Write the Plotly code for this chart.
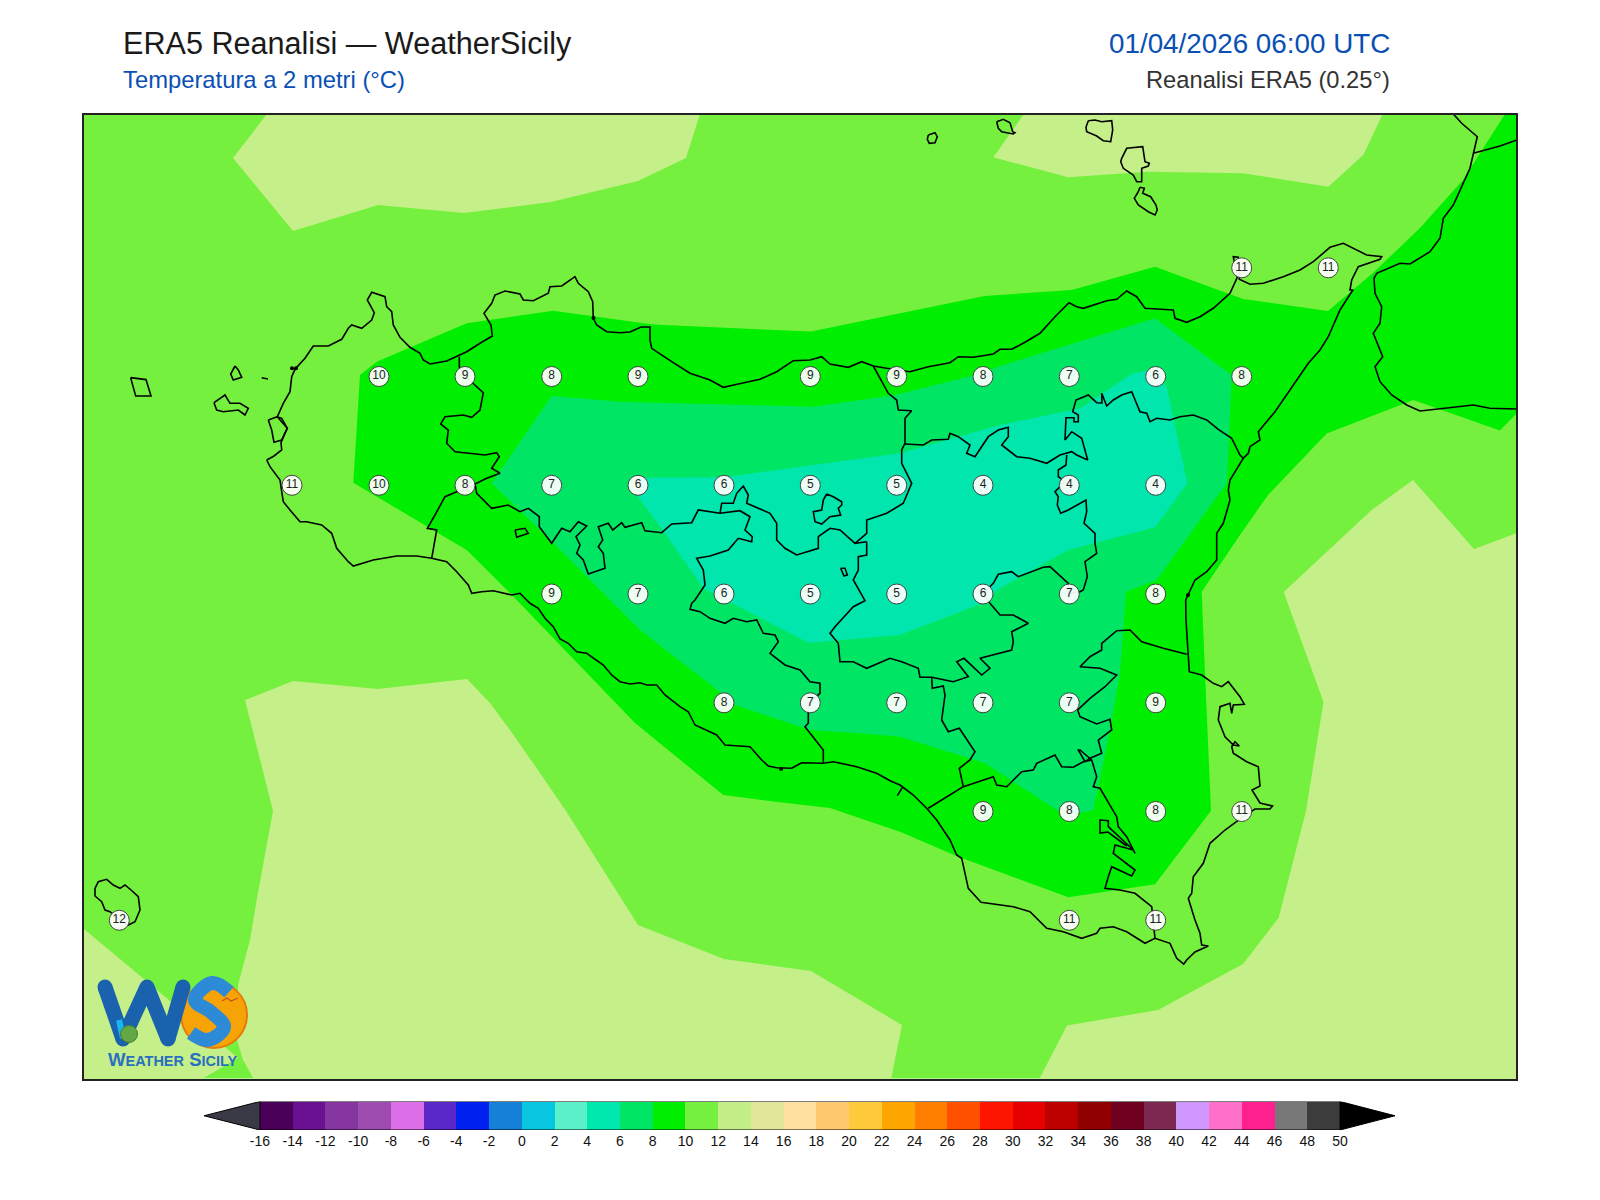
import plotly.graph_objects as go

# ---------- map units: eastings / southings of the figure's map plane ----------
MAP_X = (83.6, 1516.2)
MAP_Y = (1078.7, 114.9)

# ---------- temperature band polygons ----------
band_10_12 = [
    [(MAP_X[0],MAP_Y[0]),(MAP_X[1],MAP_Y[0]),(MAP_X[1],MAP_Y[1]),(MAP_X[0],MAP_Y[1])],
]
band_12_14 = [
    [(267,114),(700,114),(686,158),(638,181),(551,202),(464,213),(378,205),(293,231),(233,158)],
    [(1024,114),(993.3,157.3),(1068.3,177.3),(1146.7,171.7),(1243,173.3),(1328.3,186.7),(1363.3,155),(1382.7,114)],
    [(245,700),(293,681),(378,689),(467,679),(490,703),(510,730),(540,773),(566,811),(638,925),(724,959),(811,971),(902,1025),(891,1079.6),(254,1079.6),(243,1060),(237,1040),(238,985),(250,940),(257,898),(273,811)],
    [(82.7,928),(120,959),(238,1058),(201,1079.6),(82.7,1079.6)],
    [(1039,1079.6),(1067,1025.5),(1158,1010),(1243,964),(1278.6,918),(1306,811),(1323.5,702),(1283.7,592),(1371.7,510),(1413,480),(1474,549),(1517,533),(1517,1079.6)],
]
band_8_10 = [
    [(360,375),(376.7,361.7),(466.7,323.3),(553.3,310.7),(653,324.5),(811,331.6),(984.7,296),(1071.7,290),(1155,266.7),(1243,299),(1328,311),(1373,273),(1420,228),(1463,180),(1505,114),(1517,114),
     (1517,413),(1500,430.6),(1413.3,400),(1326.7,433.5),(1268,495),(1240,535),(1201.7,591.7),(1205,673),(1211,810.7),(1155,884.3),(1068.3,897.3),(958.3,856.7),(900,831.7),(880,825),(830,808),(780,802.3),(723.3,795),(635,723),(510,593),(466.7,550),(353.3,482.7)],
]
band_6_8 = [
    [(551.7,396),(620,401.7),(813.3,406.7),(895,395),(983,373),(1000,366),(1155,318.3),(1231.7,375),(1228.3,453.3),(1226.7,483.3),(1156.7,580),(1126,591.7),(1124,620),(1120,673.3),(1110,730),(1093.3,810),(1080,813),(1056.7,810),(985,763.3),(900,736.7),(860,733.3),(810,730),(735,705),(713.3,686.7),(640,630),(603.3,593.3),(553.3,543),(491.7,483.3)],
]
band_4_6 = [
    [(638,496.7),(645,477.7),(723.3,477.3),(900,453.3),(1000,425),(1080,408.3),(1133,373.3),(1150,370),(1166.7,386.7),(1187.3,483.3),(1155,527.3),(1068.3,550),(1000,588.3),(983,603),(900,635),(808.3,642.7),(703.3,588.3),(665,533.3)],
]

# ---------- coastlines ----------
coast_sicily = [
    (266.7,460),(274,456),(281.7,450),(281,442.7),(285,433),(287.3,428.3),(281.7,418.3),(277.3,416.7),(283.3,403.3),(290,391.7),(291.7,376.7),(295,369.3),(305,358.3),(313.3,346),(328.3,346),(341.7,339.3),(348.3,328.3),(351.7,325),(361.7,328.3),(371.7,320),(374.3,312.7),(367.3,300),(371.7,292.3),(385,296.7),(386.7,306.7),(391.7,311.7),(393.3,325),(400,337.3),(410,347.3),(420,353.3),(423.3,360),(430,364),(446.7,361),(466.7,351.7),(480,343.3),(492.3,336),(491,325),(484,313.3),(491.7,303.3),(495,295),(505,291),(520,294),(523.3,300),(533.3,300.7),(548.3,293.3),(550,286.7),(561.7,286),(575,276.7),(578.3,283.3),(588.3,291.7),(592.7,301.7),(593.3,318.3),(596.7,325),(606.7,331.7),(620,332.7),(630,332),(641,327),(650,327),
    (650,340),(651.7,348.3),(671.7,361.7),(690,373.3),(710,380),(723.3,387.3),(738.3,384),(760,379.3),(776.7,371.7),(793.3,360.7),(810,360),(821.7,356.7),(830,364),(848.3,367.3),(861.7,361.7),(873.3,366),(886.7,368.3),(910,371.7),(928.3,366.7),(950,362.7),(958.3,356.7),(973.3,357.3),(993.3,354),
    (1000,349.3),(1011.7,349.3),(1025,342.3),(1040,333.3),(1055,316.7),(1069,302.7),(1076.7,306.7),(1083.3,308.3),(1106.7,300.7),(1116.7,299.3),(1126.7,291),(1136.7,296.7),(1145,308.3),(1173.3,310),(1175,318.3),(1186.7,322.3),(1200,316.7),(1213.3,308.3),(1230,293.3),(1237.3,277.3),(1233.3,256.7),(1238.3,257.3),(1239.3,279.3),(1250,284.3),(1263.3,283.3),(1283.3,276.7),(1300,270),(1313.3,261.7),(1330,247.3),(1343.3,243.3),(1353.3,248.3),(1366.7,255),(1381.7,256.7),(1380,259.3),(1358.3,266.7),(1351.7,280),(1350,290),(1353.3,290),(1351.7,291.7),(1340,310),(1328.3,336.7),(1320,350),(1308.3,363.3),(1275,411.7),(1258.3,431.7),(1260,440),(1250,446.7),(1248.3,453.3),(1243.3,458.3),(1230,480),(1228.3,490),(1230,500),(1223.3,523.3),(1216.7,533.3),(1216.7,560),(1206.7,571.7),(1195,580),(1190,590),(1185.7,600),
    (1186,620),(1187.3,643.3),(1189.3,671.7),(1201.7,675),(1213.3,683.3),(1221.7,686.7),(1228.3,681.7),(1240,696.7),(1244.3,704.3),(1233.3,705),(1231.7,713.3),(1230,703.3),(1220,706.7),(1218.3,720),(1225,736.7),(1233.3,745),(1239.3,746),(1235,741.7),(1231.7,746.7),(1233.3,753.3),(1246.7,761.7),(1258.3,766.7),(1260,786),(1252,790),(1260,803),(1272.5,806),(1270,809),(1255,809),(1243.3,816.7),(1225,830),(1210,843.3),(1203.3,863.3),(1193.3,876.7),(1191.7,893.3),(1188.3,898.3),(1195,920),(1200,933.3),(1201.7,945),(1208.3,946),(1195,952),(1186.7,960),(1183.7,964),(1176.7,958.3),(1170,943.3),(1155,938.3),(1145,943.3),(1126.7,931.7),(1113.3,926.7),(1100,928.3),(1096.7,933.3),(1081.7,938.3),(1063.3,931.7),(1046.7,928.3),(1030,911.7),(1013.3,906.7),(981,902.3),(968.3,888.3),(961.7,858.3),(956.7,855),(950,840),(936.7,820),(926.7,808.3),(913.3,795),(900,785),(890,780.7),(876.7,773.3),(856.7,766.7),(833.3,761.7),(823.3,763.3),(801.7,762.7),(791.7,768.3),(776.7,767.7),(768.3,766),(761.7,760),(750,746.7),(725,745),(716.7,735),(695,725),(688.3,711.7),(680,706.7),(665,695),(656.7,685),(646.7,685),(640,682.7),(630,684),(620,681.7),(611.7,675),(603.3,665),(593.3,658.3),(586.7,653.3),(576.7,651.7),(568.3,643.3),(560,639),(553.3,626.7),(545,618.3),(538.3,608.3),(530,603.3),(520,593.3),(511.7,595),(493.3,590.7),(481.7,591.7),(471.7,593.3),(468.3,585),(456.7,571.7),(446.7,561.7),(431.7,558.3),(416.7,556),(396.7,556),(373.3,560),(353.3,566),(348.3,561.7),(336.7,548.3),(331.7,533.3),(321.7,525),(306.7,521.7),(300,521.7),(290,510),(283.3,501.7),(281.7,491.7),(280,480),(270,466.7),(266.7,460),
]
coast_calabria = [
    [(1453.3,114),(1461.7,123.3),(1477.3,136.7),(1473.3,153.3),(1470,168.3),(1461.7,186.7),(1453.3,205),(1443.3,218.3),(1440,238.3),(1430,251.7),(1410,264),(1400,263.3),(1376.7,273.3),(1374,278.3),(1375,293.3),(1381.7,306.7),(1380,323.3),(1373.3,333.3),(1378.3,345),(1382.7,356.7),(1375,366.7),(1380,381.7),(1391.7,395),(1406.7,405),(1420,411),(1436.7,409.3),(1473.3,405),(1490,408.3),(1517,409)],
    [(1473.3,153.3),(1482,151),(1500,146),(1517,140)],
]
islands = [
    [(268.3,420),(277.3,416.7),(287.3,428.3),(281.7,440),(274,442.3),(271.7,430),(268.3,420)],
    [(235,366),(230.7,374),(233.3,380),(241.7,377.3),(238.3,370),(235,366)],
    [(214,402.7),(225,395),(230,403.3),(240,403.3),(248.3,408.3),(245,415),(238.3,410),(223.3,411.7),(216.7,410),(214,402.7)],
    [(130.6,377.6),(146,379.6),(151,396),(135.7,396),(130.6,377.6)],
    [(261.7,377.7),(268,379)],
    [(928.3,135),(935,132.7),(937.3,136.7),(935,142.7),(929.3,143.3),(927.3,139.3),(928.3,135)],
    [(996.7,121.7),(1003.3,119.3),(1010,122.7),(1012.7,131.7),(1015,132.7),(1013.3,134),(1001.7,131.7),(998.3,128.3),(996.7,121.7)],
    [(1088.3,120.7),(1095,120),(1101.7,121.7),(1111.7,120.7),(1112.7,130),(1110.7,141.7),(1103.3,140.7),(1096.7,136),(1086.7,131.7),(1086,127.3),(1088.3,120.7)],
    [(1121.7,158.3),(1126.7,148.3),(1142.7,146.7),(1145,161.7),(1149.3,163.3),(1148.3,166),(1141.7,168.3),(1141.7,181.7),(1136.7,181.7),(1133.3,175),(1123.3,168.3),(1120.7,161.7),(1121.7,158.3)],
    [(1140,187.3),(1144.3,188.3),(1142.7,193.3),(1150.7,196.7),(1156,205),(1157.3,210),(1155,215),(1148.3,211.7),(1138.3,205),(1134.3,198.3),(1138.3,191.7),(1140,187.3)],
    [(95,888.3),(98.3,881.7),(106.7,879.3),(113.3,885),(120,888.3),(125,885),(131,890),(138.3,896.7),(140,910),(135,921.7),(128.3,925),(120,920),(110,911.7),(105,910),(101.7,901.7),(95,896),(95,888.3)],
]
harbour_spots_x = [292, 296, 593.5, 781, 1188]
harbour_spots_y = [368.3, 368.3, 318, 769, 595]

# ---------- province borders ----------
borders = [
    [(459.3,356.7),(459.3,366.7),(465,376),(473.3,383.3),(483.3,392.7),(480,410),(471.7,417.3),(463.3,415),(445,416.7),(440.7,424),(448.3,430),(446.7,443.3),(455,451.7),(485,455),(496.7,452.7),(499.3,456.7),(491.7,468.3),(500,473.3),(486.7,478.3),(475,484),(465,490),(456.7,491.7),(445,496.7),(435,515),(427.3,528.3),(436.7,530),(431.7,558.3)],
    [(475,484),(476.7,493.3),(491.7,508.3),(508.3,505),(520,511.7),(528.3,508.3),(539.3,516.7),(539.3,526.7),(551.7,543.3),(561.7,528.3),(570,531.7),(578.3,521.7),(586.7,526),(576,536.7),(580,545),(576.7,553.3),(583.3,560),(588.3,574),(605,568.3),(603.3,553.3),(598.3,546.7),(602.7,540),(598.3,526.7),(608.3,523.3),(612.7,530),(621.7,522.7),(625,527.3),(641.7,522.7),(645,530.7),(661.7,532.7),(671.7,524),(691.7,522.7),(698.3,510),(720,513.3),(740,510.7),(750,516.7),(745,530),(752.3,536.7),(751.7,541.7),(738.3,538.3),(728.3,550),(710,556),(696.7,558.3),(703.3,570),(705,585),(695,600),(691.7,603.3),(690,609.3),(700,611.7),(710,618.3),(725,623.3),(733.3,618.3),(746.7,621.7),(756.7,620),(763.3,633.3),(775,635),(778.3,641.7),(770,653.3),(785,665),(800,670),(810,681.7),(820,683.3),(820,693.3),(808.3,703.3),(808.3,713.3),(808.3,723.3),(805,726.7),(815,740),(823.3,750),(823.3,762.7)],
    [(720,513.3),(721.7,503.3),(733.3,503.3),(736.7,493.3),(743.3,486),(748.3,495),(746.7,503.3),(770,513.3),(776.7,523.3),(776.7,540),(785,548.3),(796.7,555),(818.3,548.3),(818.3,536.7),(830,528.3),(840,530),(855,543.3),(866.7,541.7)],
    [(873.3,366),(888.3,393.3),(896.7,400),(898.3,410),(911.7,410.7),(905,418.3),(905,443.3),(901.7,450),(901.7,463.3),(911.7,483.3),(903.3,503.3),(886.7,513.3),(866.7,520),(866.7,533.3),(855,543.3)],
    [(866.7,541.7),(866.7,555),(858.3,556.7),(858.3,570),(853.3,580),(858.3,588.3),(865,600.7),(853.3,606.7),(835,626.7),(830,633.3),(838.3,643.3),(840,661.7),(853.3,661.7),(866.7,668.3),(890,658.3),(901.7,661.7),(918.3,668.3),(920,677.3),(931.7,677.3),(953.3,681.7),(968.3,676.7),(956.7,661.7),(964,658.3),(981.7,675),(990,668.3),(980,658.3),(1011.7,650),(1013.3,641.7),(1011.7,631.7),(1028.3,623.3),(1013.3,615),(1000,615),(990,603.3),(983.3,593.3),(993.3,583.3),(998.3,574.3),(1011.7,571.7),(1018.3,576.7),(1043.3,567.3),(1050,566.7),(1068.3,583.3),(1069.3,593.3)],
    [(931.7,676.7),(932.3,688.3),(943.3,686),(945,695),(941.7,720),(948.3,731.7),(959.3,728.3),(975,751.7),(970,760),(959.3,768.3),(963.3,786.7),(936.7,803.3),(928.3,808.3)],
    [(963.3,786.7),(993.3,776.7),(996.7,785),(1006.7,786.7),(1021.7,771.7),(1033.3,770),(1036.7,763.3),(1055,755),(1061.7,766.7),(1073.3,767.3),(1083.3,761.7),(1091.7,760),(1080,750),(1078.3,750),(1085,761.7),(1090,758.3),(1101.7,753.3),(1098.3,740),(1111.7,730),(1110,719.3),(1096.7,724),(1080,716.7),(1077.7,710),(1090,698.3),(1105,686.7),(1116.7,675),(1100,668.3),(1080,666.7),(1090,656.7),(1101.7,650),(1101.7,643.3),(1116.7,630.7),(1130,630),(1141.7,641.7),(1163.3,648.3),(1186.7,654.3)],
    [(1091.7,760),(1096.7,776.7),(1093.3,786.7),(1100,788.3),(1116.7,816.7),(1118.3,826.7),(1126.7,836.7),(1135,853.3)],
    [(1126.7,846),(1108,832),(1100,833),(1100,820),(1108.3,820.7),(1108.3,826.7),(1133.3,850),(1115,845),(1113.3,853.3),(1135,870),(1131.7,876),(1111.7,866.7),(1108.3,876.7),(1105,888.3),(1120,890),(1135,893.3),(1151.7,906.7),(1155,938.3)],
    [(1243.3,458.3),(1240,455),(1231.7,438.3),(1218.3,429.3),(1206.7,420),(1193.3,415),(1180,416.7),(1170,420),(1156.7,418.3),(1150,421.7),(1146.7,413.3),(1140,411.7),(1131.7,391.7),(1121.7,395),(1113.3,400),(1106.7,406),(1101.7,393.3),(1102,403),(1096.7,402.7),(1088.3,395),(1076,400),(1072.7,411.7),(1078.3,415),(1078.3,421.7),(1074,421.7),(1074,417.7),(1066,417.7),(1065,440),(1071.7,431.7),(1081.7,438.3),(1087.7,460),(1076.7,455),(1071.7,451.7),(1060,455),(1046.7,463.3),(1030,458.3),(1016.7,456.7),(1001.7,445),(1008.3,436.7),(1008.3,427.3),(998.3,430),(988.3,436.7),(975,456.7),(966.7,453.3),(970,445),(958.3,436.7),(950,433.3),(948.3,439.3),(931.7,440),(923.3,445),(905,444)],
    [(1066.7,455),(1066,465),(1058.3,470),(1058.3,476.7),(1065,481.7),(1055,491.7),(1058.3,496.7),(1057.3,505),(1060.7,513.3),(1068.3,510),(1086,500),(1086.7,511.7),(1084,523.3),(1095,533.3),(1095,543.3),(1096.7,553.3),(1085,561.7),(1087.3,576.7),(1083.3,590),(1080,591.7),(1069.3,593.3)],
    [(826.7,494),(833.3,496.7),(841.7,501.7),(841.7,505),(838.3,508.3),(840.7,515),(830,516.7),(821.7,524),(815,521.7),(813.3,511.7),(821.7,510),(823.3,500),(826.7,494)],
    [(840.7,568.3),(845,568.3),(847.3,575),(844,576),(840.7,568.3)],
    [(515,530),(525,528.3),(528.3,533.3),(516.7,537.3),(515,530)],
    [(902.3,787.7),(897.3,795.7)],
]

# ---------- printed temperatures ----------
label_x = [1241.7,1328.3,
           379,465,551.7,638,810.3,896.7,983,1069.3,1155.7,1241.7,
           292,379,465,551.7,638,724,810.3,896.7,983,1069.3,1155.7,
           551.7,638,724,810.3,896.7,983,1069.3,1155.7,
           724,810.3,896.7,983,1069.3,1155.7,
           983,1069.3,1155.7,1241.7,
           119.3,1069.3,1155.7]
label_y = [267.8]*2 + [376.5]*10 + [485.3]*11 + [594]*8 + [702.8]*6 + [811.5]*4 + [920.3]*3
label_t = [11,11,
           10,9,8,9,9,9,8,7,6,8,
           11,10,8,7,6,6,5,5,4,4,4,
           9,7,6,5,5,6,7,8,
           8,7,7,7,7,9,
           9,8,8,11,
           12,11,11]

# ---------- colour bar ----------
cbar_levels = list(range(-16, 50, 2))
cbar_ticks = list(range(-16, 52, 2))
cbar_colors = ["#4a0058","#6a1090","#8535a0","#9e4cb0","#dc6fe8","#5a28c8","#0020f0","#1580d8","#08c6e0","#5cf0c8",
               "#00e8ae","#00e664","#00ee00","#75f040","#c4ef88","#e2e69a","#ffe0a0","#ffc870","#ffc93c","#ffa500",
               "#ff8000","#ff5000","#ff1400","#e60000","#bb0000","#900000","#700020","#7c2850","#d098ff","#ff70c8",
               "#ff2090","#787878","#3c3c3c"]
cbar_under = "#3a3a46"
cbar_over = "#000000"
TIP_LOW, TIP_HIGH = -19.42, 53.36

BAND_COLORS = {"4_6": "#00E6AD", "6_8": "#00E664", "8_10": "#00EE00", "10_12": "#75F03F", "12_14": "#C5EF88"}


def flat(segments):
    xs, ys = [], []
    for seg in segments:
        xs += [p[0] for p in seg] + [None]
        ys += [p[1] for p in seg] + [None]
    return xs, ys


fig = go.Figure()
for polys, col in [(band_10_12, "10_12"), (band_12_14, "12_14"), (band_8_10, "8_10"), (band_6_8, "6_8"), (band_4_6, "4_6")]:
    xs, ys = flat(polys)
    fig.add_trace(go.Scatter(x=xs, y=ys, mode="none", fill="toself", fillcolor=BAND_COLORS[col], hoverinfo="skip"))

xs, ys = flat(borders)
fig.add_trace(go.Scatter(x=xs, y=ys, mode="lines", line=dict(color="#000", width=1.6), hoverinfo="skip"))
xs, ys = flat([coast_sicily] + coast_calabria + islands)
fig.add_trace(go.Scatter(x=xs, y=ys, mode="lines", line=dict(color="#000", width=1.6), hoverinfo="skip"))
fig.add_trace(go.Scatter(x=harbour_spots_x, y=harbour_spots_y, mode="markers",
                         marker=dict(color="#000", size=4), hoverinfo="skip"))

# logo (decorative, drawn on the map plane)
fig.add_trace(go.Scatter(x=[214], y=[1015], mode="markers",
                         marker=dict(color="#f6a306", size=66, line=dict(color="#e8780a", width=2)), hoverinfo="skip"))
logo_w_x, logo_w_y = [105, 123, 147, 168, 183], [987, 1039, 987, 1039, 987]
logo_s_x, logo_s_y = [229, 212, 195, 211, 224, 208, 191], [992, 983, 1000, 1012, 1027, 1040, 1033]
fig.add_trace(go.Scatter(x=logo_w_x, y=logo_w_y, mode="lines+markers", line=dict(color="#1a62ad", width=15),
                         marker=dict(color="#1a62ad", size=15), hoverinfo="skip"))
fig.add_trace(go.Scatter(x=[119, 123], y=[1020, 1038], mode="lines", line=dict(color="#1ab6f2", width=6), hoverinfo="skip"))
fig.add_trace(go.Scatter(x=[129], y=[1034], mode="markers", marker=dict(color="#63a845", size=17, line=dict(color="#3f7f30", width=1)), hoverinfo="skip"))
fig.add_trace(go.Scatter(x=logo_s_x, y=logo_s_y, mode="lines", line=dict(color="#2c8ad6", width=14, shape="spline", smoothing=1.1), hoverinfo="skip"))
fig.add_trace(go.Scatter(x=[222, 227, 231, 238], y=[1001, 998, 1001, 998], mode="lines", line=dict(color="#c8501c", width=1.3), hoverinfo="skip"))

fig.add_trace(go.Scatter(x=label_x, y=label_y, text=[str(v) for v in label_t], mode="markers+text",
                         textposition="middle center",
                         textfont=dict(family="Liberation Sans", size=12, color="#222"),
                         marker=dict(size=20, color="rgba(255,255,255,0.93)", line=dict(color="#444", width=1)),
                         hoverinfo="skip"))

# colour bar
fig.add_trace(go.Bar(x=[v + 1 for v in cbar_levels], y=[1] * len(cbar_levels), width=2,
                     marker=dict(color=cbar_colors, line=dict(width=0)), xaxis="x2", yaxis="y2", hoverinfo="skip"))
fig.add_trace(go.Scatter(x=[cbar_ticks[0], TIP_LOW, cbar_ticks[0], cbar_ticks[0]], y=[0, .5, 1, 0], mode="lines", fill="toself",
                         fillcolor=cbar_under, line=dict(color="#000", width=1), xaxis="x2", yaxis="y2", hoverinfo="skip"))
fig.add_trace(go.Scatter(x=[cbar_ticks[-1], TIP_HIGH, cbar_ticks[-1], cbar_ticks[-1]], y=[0, .5, 1, 0], mode="lines", fill="toself",
                         fillcolor=cbar_over, line=dict(color="#000", width=1), xaxis="x2", yaxis="y2", hoverinfo="skip"))
fig.add_trace(go.Scatter(x=[cbar_ticks[0], cbar_ticks[-1], None, cbar_ticks[0], cbar_ticks[-1]], y=[0, 0, None, 1, 1], mode="lines",
                         line=dict(color="#000", width=1.2), xaxis="x2", yaxis="y2", hoverinfo="skip"))

W, H = 1600, 1200
FONT = "Liberation Sans"


def txt(s, px, py, size, color, anchor="left"):
    return dict(text=s, xref="paper", yref="paper", x=px / W, y=1 - py / H, showarrow=False, xanchor=anchor,
                yanchor="middle", font=dict(family=FONT, size=size, color=color))


annots = [
    txt("ERA5 Reanalisi — WeatherSicily", 121, 43, 30.6, "#1a1a1a"),
    txt("Temperatura a 2 metri (°C)", 121, 80, 23.8, "#0a50b4"),
    txt("01/04/2026 06:00 UTC", 1391.5, 44, 27.8, "#0a50b4", "right"),
    txt("Reanalisi ERA5 (0.25°)", 1391.5, 80, 23.7, "#333333", "right"),
    txt('<b>W<span style="font-size:14.5px">EATHER</span> S<span style="font-size:14.5px">ICILY</span></b>', 106, 1059, 18.5, "#2a6fc0"),
]

fig.update_layout(
    width=W, height=H, autosize=False, paper_bgcolor="white", plot_bgcolor="white",
    showlegend=False, hovermode=False, margin=dict(l=0, r=0, t=0, b=0), bargap=0,
    annotations=annots,
    xaxis=dict(domain=[MAP_X[0] / W, MAP_X[1] / W], range=list(MAP_X), showgrid=False, zeroline=False, showticklabels=False,
               ticks="", showline=True, mirror=True, linecolor="#222", linewidth=1.6),
    yaxis=dict(domain=[1 - MAP_Y[0] / H, 1 - MAP_Y[1] / H], range=list(MAP_Y), showgrid=False, zeroline=False, showticklabels=False,
               ticks="", showline=True, mirror=True, linecolor="#222", linewidth=1.6),
    xaxis2=dict(domain=[204 / W, 1395 / W], range=[TIP_LOW, TIP_HIGH], anchor="y2", tickmode="array", tickvals=cbar_ticks,
                ticktext=[str(v) for v in cbar_ticks], ticks="", showgrid=False, zeroline=False, showline=False,
                ticklabelstandoff=1, tickfont=dict(family=FONT, size=14, color="#111")),
    yaxis2=dict(domain=[1 - 1130 / H, 1 - 1101.5 / H], range=[0, 1], anchor="x2", showgrid=False, zeroline=False,
                showticklabels=False, ticks="", showline=False),
)

fig.write_html("out.html", config={"displayModeBar": False},
               post_script="document.body.style.margin='0';document.body.style.overflow='hidden';")
